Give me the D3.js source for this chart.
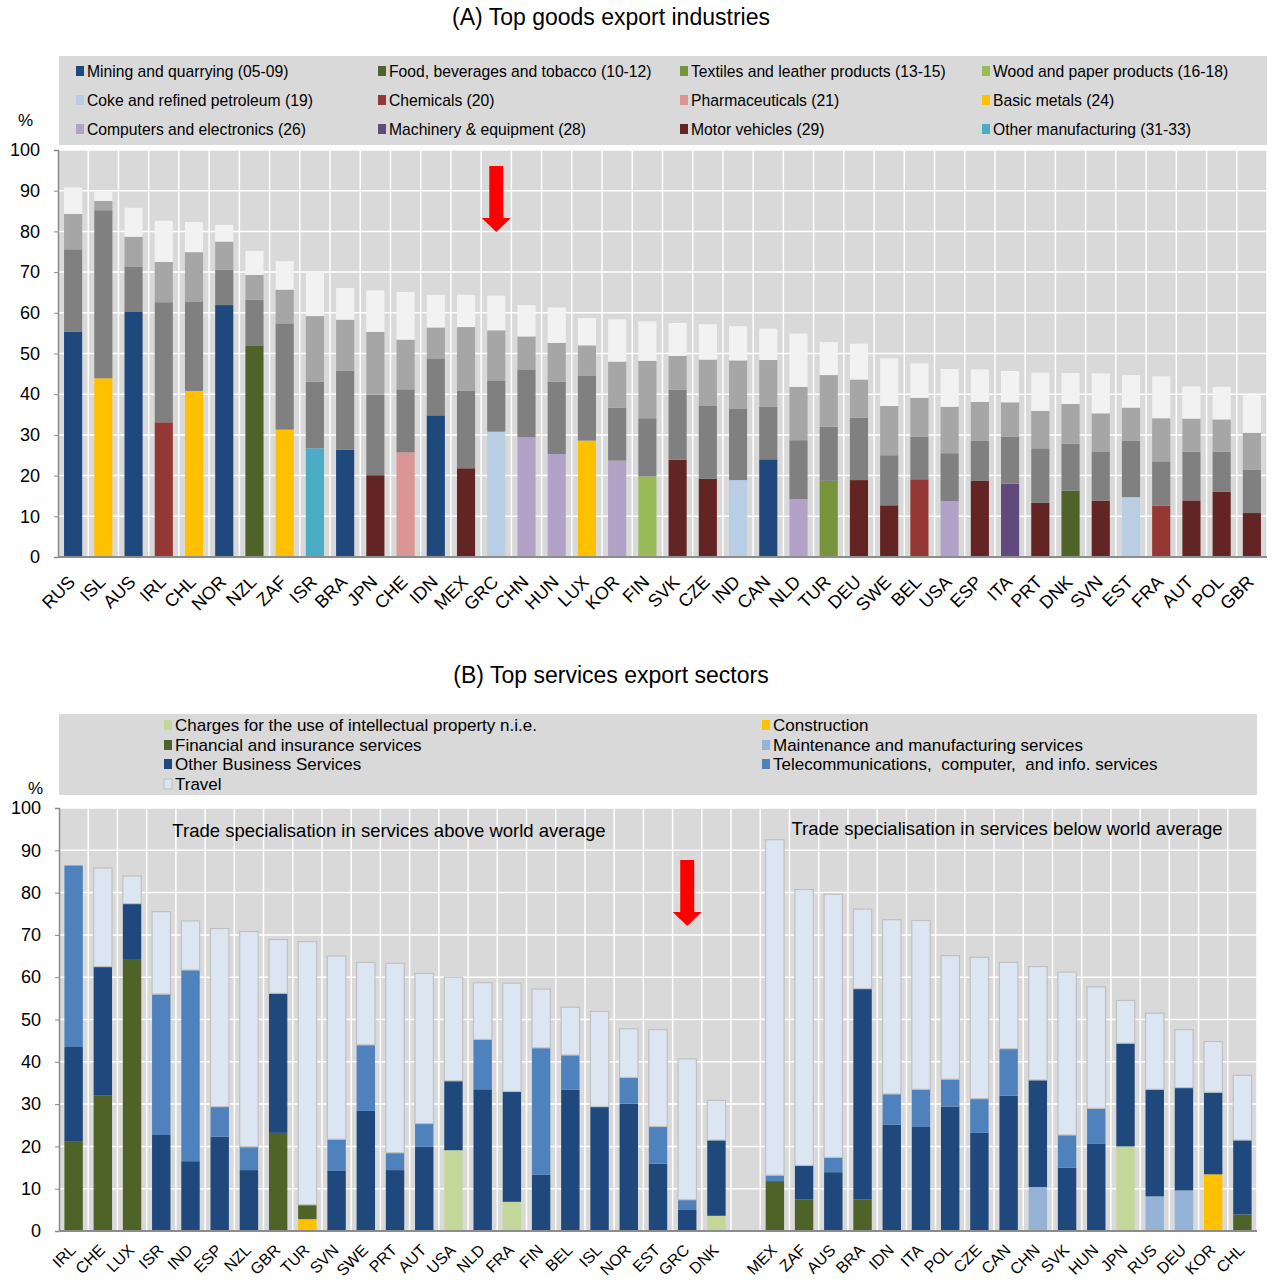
<!DOCTYPE html>
<html><head><meta charset="utf-8">
<script src="https://cdn.jsdelivr.net/npm/d3@7"></script>
<style>body{margin:0;background:#fff;font-family:"Liberation Sans",Arial,sans-serif;} text{white-space:pre;}</style>
</head><body><svg id="c" width="1275" height="1284"></svg>
<script>
// ---------- Panel A data ----------
const industries = ["Mining and quarrying (05-09)","Food, beverages and tobacco (10-12)","Textiles and leather products (13-15)","Wood and paper products (16-18)",
"Coke and refined petroleum (19)","Chemicals (20)","Pharmaceuticals (21)","Basic metals (24)",
"Computers and electronics (26)","Machinery & equipment (28)","Motor vehicles (29)","Other manufacturing (31-33)"];
const industryColors = ["#1f497d","#4f6228","#77933c","#9bbb59","#b9cde5","#953735","#d99694","#ffc000","#b3a2c7","#604a7b","#632523","#4bacc6"];
const countriesA = ["RUS","ISL","AUS","IRL","CHL","NOR","NZL","ZAF","ISR","BRA","JPN","CHE","IDN","MEX","GRC","CHN","HUN","LUX","KOR","FIN","SVK","CZE","IND","CAN","NLD","TUR","DEU","SWE","BEL","USA","ESP","ITA","PRT","DNK","SVN","EST","FRA","AUT","POL","GBR"];
// index into industries of the top industry
const topIndustry = [0,7,0,5,7,0,1,7,11,0,10,6,0,10,4,8,8,7,8,3,10,10,4,0,8,2,10,10,5,8,10,9,10,1,10,4,5,10,10,10];
const first  = [55.4,43.9,60.2,33.1,40.8,61.9,52.0,31.3,26.7,26.4,20.1,25.7,34.8,21.8,30.8,29.4,25.3,28.6,23.7,19.8,23.9,19.2,18.9,24.0,14.2,18.7,18.9,12.7,19.1,13.7,18.7,18.0,13.3,16.3,13.8,14.7,12.6,13.9,16.0,10.8];
const second = [20.2,41.3,11.2,29.5,22.0,8.7,11.2,26.1,16.4,19.4,19.8,15.5,14.0,19.1,12.6,16.7,17.8,16.0,13.0,14.3,17.2,17.9,17.6,12.9,14.5,13.3,15.3,12.3,10.4,11.8,9.9,11.6,13.4,11.5,12.0,13.9,10.9,12.0,9.9,10.6];
const third  = [8.7,2.3,7.3,9.9,12.1,6.9,6.1,8.3,16.1,12.5,15.4,12.2,7.6,15.6,12.3,8.1,9.5,7.4,11.3,14.1,8.3,11.4,11.8,11.5,13.1,12.7,9.4,12.1,9.6,11.4,9.5,8.4,9.2,9.8,9.5,8.1,10.6,8.1,7.9,9.1];
const fourth = [6.5,2.3,7.1,10.1,7.4,4.1,5.9,7.0,10.8,7.8,10.2,11.7,8.0,7.9,8.5,7.7,8.7,6.7,10.4,9.7,8.1,8.7,8.4,7.7,13.1,8.1,8.8,11.7,8.5,9.3,8.0,7.7,9.4,7.6,9.8,8.0,10.3,7.9,8.0,9.3];
const greyColors = ["#808080","#a6a6a6","#f2f2f2"];

// ---------- Panel B data ----------
const sectors = ["Charges for the use of intellectual property n.i.e.","Construction","Financial and insurance services","Maintenance and manufacturing services","Other Business Services","Telecommunications,  computer,  and info. services","Travel"];
const sectorColors = ["#c4d79b","#ffc000","#4f6228","#95b3d7","#1f497d","#4f81bd","#dce6f2"];
const countriesAbove = ["IRL","CHE","LUX","ISR","IND","ESP","NZL","GBR","TUR","SVN","SWE","PRT","AUT","USA","NLD","FRA","FIN","BEL","ISL","NOR","EST","GRC","DNK"];
const countriesBelow = ["MEX","ZAF","AUS","BRA","IDN","ITA","POL","CZE","CAN","CHN","SVK","HUN","JPN","RUS","DEU","KOR","CHL"];
const charges      = [0,0,0,0,0,0,0,0,0,0,0,0,0,19.1,0,6.9,0,0,0,0,0,0,3.6,  0,0,0,0,0,0,0,0,0,0,0,0,20.0,0,0,0,0];
const construction = [0,0,0,0,0,0,0,0,2.8,0,0,0,0,0,0,0,0,0,0,0,0,0,0,  0,0,0,0,0,0,0,0,0,0,0,0,0,0,0,13.4,0];
const financial    = [21.1,32.0,64.3,0,0,0,0,23.2,3.4,0,0,0,0,0,0,0,0,0,0,0,0,0,0,  11.8,7.5,0,7.5,0,0,0,0,0,0,0,0,0,0,0,0,3.9];
const maintenance  = [0,0,0,0,0,0,0,0,0,0,0,0,0,0,0,0,0,0,0,0,0,0,0,  0,0,0,0,0,0,0,0,0,10.4,0,0,0,8.2,9.6,0,0];
const otherBusiness= [22.4,30.5,13.1,22.7,16.5,22.3,14.4,33.0,0,14.2,28.4,14.4,19.9,16.4,33.5,26.1,13.3,33.4,29.4,30.1,15.9,5.1,17.9,  0,8.0,13.9,49.8,25.1,24.6,29.4,23.2,32.0,25.3,15.0,20.7,24.4,25.3,24.3,19.4,17.6];
const telecom      = [42.9,0,0,33.3,45.2,7.1,5.5,0,0,7.5,15.6,4.1,5.5,0,11.8,0,30.0,8.2,0,6.2,8.8,2.3,0,  1.4,0,3.5,0,7.3,8.9,6.5,8.1,11.1,0,7.7,8.3,0,0,0,0,0];
const travel       = [0,23.3,6.5,19.5,11.6,42.1,50.9,12.7,62.2,43.3,19.5,44.8,35.5,24.5,13.4,25.6,13.9,11.3,22.5,11.5,22.9,33.3,9.4,  79.3,65.2,62.2,18.8,41.2,39.9,29.2,33.4,20.4,26.8,38.5,28.7,10.1,18.0,13.7,12.0,15.3];
const yTicks = [0,10,20,30,40,50,60,70,80,90,100];

const svg = d3.select("#c");
const FONT = "'Liberation Sans', Arial, sans-serif";

function arrow(g, cx, yTop, yHeadStart, yTip){
  const sw = 7, hw = 14.5;
  g.append("path").attr("fill","#ff0000")
   .attr("d",`M${cx-sw},${yTop}L${cx+sw},${yTop}L${cx+sw},${yHeadStart}L${cx+hw},${yHeadStart}L${cx},${yTip}L${cx-hw},${yHeadStart}L${cx-sw},${yHeadStart}Z`);
}

function frame(x0,x1,y, step, n){
  const g = svg.append("g");
  g.append("rect").attr("x",x0).attr("y",y(100)).attr("width",x1-x0).attr("height",y(0)-y(100)).attr("fill","#d9d9d9");
  yTicks.forEach(t=>{ if(t>0) g.append("line").attr("x1",x0).attr("x2",x1).attr("y1",y(t)).attr("y2",y(t)).attr("stroke","#fff").attr("stroke-width",1.5);});
  for(let i=1;i<=n;i++){ const xx=x0+i*step; g.append("line").attr("x1",xx).attr("x2",xx).attr("y1",y(100)).attr("y2",y(0)).attr("stroke","#fff").attr("stroke-width",1.5);}
  return g;
}

function axes(x0,x1,y,pctX,pctY){
  const ax = svg.append("g").attr("transform",`translate(${x0},0)`)
    .call(d3.axisLeft(y).tickValues(yTicks).tickSize(4).tickPadding(14));
  ax.select(".domain").attr("stroke","#8c8c8c").attr("stroke-width",1.5);
  ax.selectAll(".tick line").attr("stroke","#8c8c8c");
  ax.selectAll("text").attr("font-family",FONT).attr("font-size",18).attr("fill","#000");
  svg.append("line").attr("x1",x0).attr("x2",x1).attr("y1",y(0)).attr("y2",y(0)).attr("stroke","#8c8c8c").attr("stroke-width",2);
  svg.append("text").attr("x",pctX).attr("y",pctY).attr("font-family",FONT).attr("font-size",17).text("%");
}

function xLabels(x, y0, labels, dx, dyTop, fs){
  labels.forEach(c=>{
    if(!c.trim()) return;
    const cx = x(c)+x.bandwidth()/2 + dx, cy = y0 + dyTop;
    svg.append("text").attr("transform",`translate(${cx},${cy}) rotate(-45)`)
      .attr("text-anchor","end").attr("dy","0.72em").attr("font-family",FONT).attr("font-size",fs).text(c);
  });
}

// ================= Panel A =================
{
  svg.append("text").attr("x",611).attr("y",25).attr("text-anchor","middle").attr("font-family",FONT).attr("font-size",23).text("(A) Top goods export industries");
  svg.append("rect").attr("x",59).attr("y",56).attr("width",1208).attr("height",89).attr("fill","#d9d9d9");
  const colX=[76,378,680,982], rowY=[71,100,129];
  industries.forEach((name,i)=>{
    const cx=colX[i%4], cy=rowY[Math.floor(i/4)];
    svg.append("rect").attr("x",cx).attr("y",cy-5).attr("width",8).attr("height",10).attr("fill",industryColors[i]);
    svg.append("text").attr("x",cx+11).attr("y",cy+5.5).attr("font-family",FONT).attr("font-size",15.7).text(name);
  });

  const x0=58, x1=1267;
  const y = d3.scaleLinear().domain([0,100]).range([557,150]);
  const x = d3.scaleBand().domain(countriesA).range([x0,x1]).paddingInner(0.4).paddingOuter(0.2);
  frame(x0,x1,y,x.step(),countriesA.length);
  const rows = countriesA.map((c,i)=>({c, segs:[[first[i],industryColors[topIndustry[i]]],[second[i],greyColors[0]],[third[i],greyColors[1]],[fourth[i],greyColors[2]]]}));
  const bars = svg.append("g");
  rows.forEach(r=>{
    let acc=0;
    r.segs.forEach(([v,col])=>{
      bars.append("rect").attr("x",x(r.c)).attr("width",x.bandwidth())
        .attr("y",y(acc+v)).attr("height",y(acc)-y(acc+v)).attr("fill",col);
      acc+=v;
    });
  });
  axes(x0,x1,y,18,126);
  xLabels(x,557,countriesA,-6,17,18);
  const gx = x("GRC")+x.bandwidth()/2;
  arrow(svg.append("g"), gx, 166, 218, 232);
}

// ================= Panel B =================
{
  svg.append("text").attr("x",611).attr("y",683).attr("text-anchor","middle").attr("font-family",FONT).attr("font-size",23).text("(B) Top services export sectors");
  svg.append("rect").attr("x",59).attr("y",714).attr("width",1198).attr("height",81).attr("fill","#d9d9d9");
  const leg = [[0,164,725],[1,762,725],[2,164,745],[3,762,745],[4,164,764],[5,762,764],[6,164,784]];
  leg.forEach(([i,lx,ly])=>{
    svg.append("rect").attr("x",lx).attr("y",ly-5).attr("width",8).attr("height",10).attr("fill",sectorColors[i])
      .attr("stroke",i===6?"#bfbfbf":"none").attr("stroke-width",1);
    svg.append("text").attr("x",lx+11).attr("y",ly+6).attr("font-family",FONT).attr("font-size",17).text(sectors[i]);
  });

  const x0=59, x1=1257;
  const domain = countriesAbove.concat([" "], countriesBelow);
  const countriesB = countriesAbove.concat(countriesBelow);
  const y = d3.scaleLinear().domain([0,100]).range([1231,808]);
  const x = d3.scaleBand().domain(domain).range([x0,x1]).paddingInner(0.37).paddingOuter(0.185);
  frame(x0,x1,y,x.step(),domain.length);
  const series = [charges,construction,financial,maintenance,otherBusiness,telecom,travel];
  const data = countriesB.map((c,i)=>{ const o={c}; series.forEach((s,k)=>o["s"+k]=s[i]); return o;});
  const keys = series.map((s,k)=>"s"+k);
  const stack = d3.stack().keys(keys)(data);
  const bars = svg.append("g");
  stack.forEach((layer,k)=>{
    layer.forEach(d=>{
      if(d[1]-d[0]<=0) return;
      bars.append("rect").attr("x",x(d.data.c)).attr("width",x.bandwidth())
        .attr("y",y(d[1])).attr("height",y(d[0])-y(d[1])).attr("fill",sectorColors[k])
        .attr("stroke",k===6?"#c0c0c0":"none").attr("stroke-width",1.2);
    });
  });
  axes(x0,x1,y,28,794);
  xLabels(x,1231,domain,-5,12,16);
  svg.append("text").attr("x",389).attr("y",837).attr("text-anchor","middle").attr("font-family",FONT).attr("font-size",18.5).text("Trade specialisation in services above world average");
  svg.append("text").attr("x",1007).attr("y",835).attr("text-anchor","middle").attr("font-family",FONT).attr("font-size",18.5).text("Trade specialisation in services below world average");
  const gx = x("GRC")+x.bandwidth()/2;
  arrow(svg.append("g"), gx, 860, 912, 926);
}
</script></body></html>
